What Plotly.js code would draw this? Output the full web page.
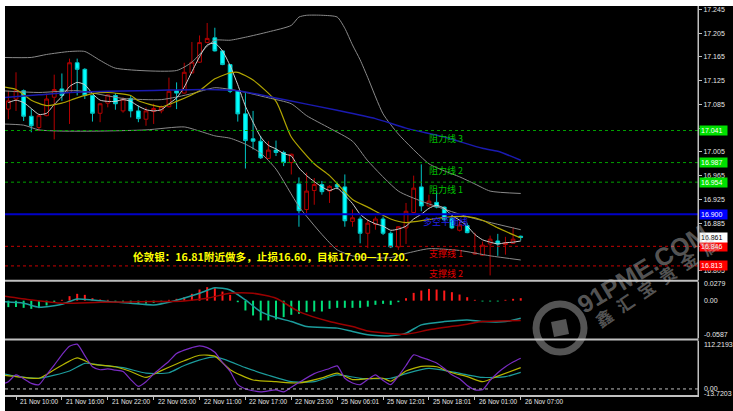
<!DOCTYPE html>
<html><head><meta charset="utf-8">
<script src="https://cdn.plot.ly/plotly-3.0.1.min.js"></script>
<style>
html,body{margin:0;padding:0;background:#fff;width:733px;height:411px;overflow:hidden}
#chart{position:absolute;left:0;top:0;width:733px;height:411px;background:#000}
.strip{position:absolute;background:#fff;z-index:5}
</style></head><body><div id="chart"></div>
<div class="strip" style="left:0;top:0;width:733px;height:6px"></div>
<div class="strip" style="left:0;top:0;width:5px;height:411px"></div>
<script>
// ---------- data ----------
const barIdx = Array.from({length:68},(_,i)=>i);
const tickIdx = [1,7,13,19,25,31,37,43,49,55,61,67];
const tickLabels = ["21 Nov 10:00","21 Nov 16:00","21 Nov 22:00","22 Nov 05:00","22 Nov 11:00","22 Nov 17:00","22 Nov 23:00","25 Nov 06:01","25 Nov 12:01","25 Nov 18:01","26 Nov 01:00","26 Nov 07:00"];

const openP  = [17.077,17.094,17.108,17.065,17.046,17.066,17.097,17.111,17.105,17.155,17.144,17.100,17.070,17.087,17.100,17.074,17.095,17.074,17.060,17.073,17.074,17.081,17.108,17.104,17.138,17.156,17.189,17.197,17.175,17.152,17.108,17.069,17.027,17.023,16.994,17.008,17.004,16.987,16.951,16.908,16.940,16.950,16.939,16.950,16.946,16.888,16.892,16.868,16.883,16.892,16.868,16.845,16.877,16.903,16.946,16.914,16.920,16.912,16.893,16.873,16.881,16.833,16.831,16.850,16.855,16.849,16.851,16.863];
const highP  = [17.108,17.139,17.110,17.077,17.067,17.103,17.135,17.137,17.162,17.162,17.146,17.101,17.087,17.102,17.104,17.097,17.100,17.083,17.080,17.086,17.083,17.130,17.122,17.155,17.190,17.201,17.222,17.214,17.176,17.153,17.109,17.104,17.074,17.032,17.023,17.024,17.007,17.002,16.962,16.970,16.961,16.956,16.949,16.953,16.967,16.908,16.896,16.891,16.896,16.896,16.871,16.880,16.919,16.965,16.984,16.933,16.939,16.913,16.897,16.888,16.885,16.869,16.854,16.864,16.867,16.862,16.878,16.864];
const lowP   = [17.060,17.074,17.057,17.038,17.040,17.065,17.026,17.091,17.052,17.100,17.094,17.056,17.055,17.080,17.076,17.071,17.063,17.055,17.049,17.052,17.070,17.080,17.077,17.103,17.137,17.155,17.188,17.174,17.151,17.104,17.056,16.977,17.009,16.993,16.993,16.998,16.981,16.967,16.879,16.902,16.916,16.933,16.919,16.942,16.879,16.879,16.851,16.843,16.874,16.865,16.843,16.840,16.850,16.902,16.905,16.913,16.910,16.888,16.875,16.871,16.868,16.832,16.830,16.797,16.830,16.832,16.850,16.856];
const closeP = [17.091,17.108,17.065,17.049,17.066,17.094,17.110,17.100,17.155,17.144,17.100,17.070,17.086,17.101,17.086,17.094,17.074,17.061,17.074,17.078,17.081,17.107,17.104,17.139,17.156,17.189,17.196,17.175,17.152,17.107,17.069,17.024,17.023,16.995,17.008,17.004,16.987,17.001,16.906,16.939,16.950,16.938,16.947,16.946,16.889,16.894,16.868,16.885,16.892,16.868,16.845,16.879,16.905,16.944,16.914,16.922,16.912,16.891,16.877,16.882,16.869,16.835,16.848,16.858,16.850,16.852,16.858,16.861];

const bbUpperX = [-1,3,5,8,10,12,14,22,24,26,27,29,31,34,37,38,39,41,43,44,45,46,47,49,51,55,57,59,61,63,67];
const bbUpper  = [17.164,17.164,17.169,17.174,17.174,17.159,17.146,17.142,17.156,17.183,17.193,17.193,17.198,17.207,17.218,17.232,17.235,17.235,17.232,17.213,17.185,17.160,17.130,17.069,17.035,16.985,16.973,16.963,16.951,16.939,16.935];
const bbMidX = [-1,4,9,15,20,24,27,30,34,37,39,42,45,47,51,54,56,60,64,67];
const bbMid  = [17.108,17.105,17.108,17.095,17.093,17.103,17.113,17.108,17.096,17.086,17.066,17.045,17.023,16.990,16.939,16.922,16.913,16.896,16.883,16.874];
const bbLowerX = [-1,2,4,7,12,18,23,25,27,29,31,33,35,38,41,43,45,47,50,52,55,59,63,67];
const bbLower  = [17.052,17.050,17.042,17.040,17.040,17.042,17.047,17.040,17.032,17.028,17.018,17.003,16.976,16.913,16.866,16.840,16.830,16.827,16.827,16.834,16.842,16.839,16.830,16.823];
const fastMA = [17.088,17.092,17.088,17.078,17.068,17.070,17.085,17.098,17.115,17.122,17.118,17.103,17.092,17.090,17.090,17.093,17.090,17.082,17.076,17.074,17.076,17.086,17.096,17.114,17.140,17.165,17.185,17.188,17.175,17.150,17.118,17.082,17.055,17.030,17.016,17.010,17.002,16.998,16.978,16.965,16.955,16.946,16.940,16.944,16.932,16.918,16.900,16.890,16.884,16.880,16.873,16.875,16.880,16.892,16.900,16.910,16.915,16.910,16.898,16.890,16.880,16.866,16.857,16.853,16.850,16.852,16.853,16.855];
const yellowMaX = [-1,1,3,5,7,9,11,13,16,17,20,22,25,27,29,30,32,35,37,40,42,45,47,50,52,55,58,60,62,64,67];
const yellowMa  = [17.115,17.110,17.092,17.083,17.087,17.096,17.103,17.105,17.100,17.091,17.081,17.090,17.108,17.128,17.138,17.139,17.126,17.090,17.030,16.985,16.965,16.925,16.912,16.892,16.886,16.891,16.896,16.896,16.890,16.877,16.860];
const blueMaX = [-1,4,8,13,17,21,26,30,36,43,48,52,57,62,64,67];
const blueMa  = [17.096,17.101,17.105,17.107,17.108,17.109,17.110,17.108,17.093,17.075,17.061,17.045,17.030,17.011,17.006,16.991];

const levelValues = [17.041,16.987,16.954,16.900,16.846,16.813];
const levelNames  = ["阻力线 3","阻力线 2","阻力线 1","多空平衡线","支撑线 1","支撑线 2"];
const lastPrice = 16.861;
const priceTicks = [17.245,17.205,17.165,17.125,17.085,17.045,17.005,16.965,16.925,16.885,16.845,16.805];

const macdHist = [-0.0102,-0.0102,-0.0113,-0.0129,-0.0118,-0.0076,-0.0024,0.0013,0.0071,0.0108,
 0.0092,0.0039,0.0018,0.0013,-0.0024,-0.0034,-0.0050,-0.0050,-0.0045,-0.0034,
 -0.0024,0.0013,0.0029,0.0055,0.0108,0.0176,0.0213,0.0197,0.0144,0.0092,
 -0.0024,-0.0155,-0.0234,-0.0312,-0.0312,-0.0297,-0.0260,-0.0223,-0.0207,-0.0181,
 -0.0171,-0.0171,-0.0129,-0.0113,-0.0113,-0.0113,-0.0113,-0.0095,-0.0066,-0.0050,
 -0.0066,-0.0024,0.0039,0.0123,0.0160,0.0186,0.0176,0.0160,0.0134,0.0097,
 0.0055,0.0013,-0.0013,-0.0013,-0.0013,0.0013,0.0029,0.0039];
const macdMainX = [-1,2,4,7,9,11,13,16,19,21,25,27,29,31,33,35,37,39,43,45,47,50,52,54,57,60,62,65,67];
const macdMain  = [-0.0015,-0.0041,-0.0104,-0.0056,0.0027,0.0011,-0.0015,-0.0041,-0.0067,-0.0025,0.0117,0.0205,0.0169,0.0011,-0.0173,-0.0267,-0.0330,-0.0409,-0.0434,-0.0488,-0.0540,-0.0556,-0.0513,-0.0382,-0.0330,-0.0304,-0.0330,-0.0330,-0.0277];
const macdSignalX = [-1,3,7,12,19,23,26,29,32,35,38,42,45,47,52,55,60,62,67];
const macdSignal  = [0.0079,0.0011,-0.0041,-0.0025,-0.0015,-0.0004,0.0038,0.0117,0.0117,0.0038,-0.0173,-0.0330,-0.0409,-0.0480,-0.0529,-0.0461,-0.0371,-0.0330,-0.0315];
const macdTickText = ["0.0279","0.00","-0.0587"];

const kdjJX = [-1,0,1,3,4,5,6,7,8,9,10,11,12,13,14,15,16,17,18,19,20,21,22,23,24,25,26,27,28,29,30,31,33,35,36,37,38,40,42,43,44,45,46,47,48,49,50,51,52,53,54,55,56,57,58,59,60,61,62,63,64,65,66,67];
const kdjJ  = [10,17,33,13,10,33,56,80,100,105,78,52,45,47,44,41,22,6,17,35,50,65,83,91,97,101,97,86,62,41,10,0,-7,-2,-7,4,15,36,48,54,25,14,10,22,33,20,10,30,55,80,74,68,61,48,33,24,8,-2,-2,20,38,52,63,72];
const kdjKX = [-1,1,4,6,9,11,14,16,18,20,23,25,27,29,32,35,38,41,43,45,47,49,50,52,54,56,58,60,62,64,67];
const kdjK  = [33,29,25,45,73,58,52,41,27,43,66,79,77,45,21,17,14,26,37,22,24,25,18,42,53,52,38,29,17,30,50];
const kdjDX = [-1,1,4,8,10,12,15,18,21,23,27,31,34,37,40,43,46,50,52,55,58,60,62,65,67];
const kdjD  = [37,30,25,42,60,56,50,37,38,55,75,50,32,17,17,33,25,25,36,48,40,33,27,29,39];
const kdjTickText = ["112.2193","0.00","-13.7203"];

// ---------- styling ----------
const axisFont = {family:"Liberation Sans, Arial, sans-serif", size:7, color:"#e6e6e6"};
const gridGray = "#c0c0c0";
const line = (x,y,color,w,ya)=>({type:"scatter",mode:"lines",x:x,y:y,xaxis:"x",yaxis:ya,
  line:{color:color,width:w,shape:"spline",smoothing:0.6},hoverinfo:"skip"});

const traces = [
  {type:"candlestick",x:barIdx,open:openP,high:highP,low:lowP,close:closeP,xaxis:"x",yaxis:"y",
   increasing:{line:{color:"#b40000",width:1},fillcolor:"#000000"},
   decreasing:{line:{color:"#00c4c4",width:1},fillcolor:"#00ffff"},
   whiskerwidth:0,hoverinfo:"skip"},
  line(bbUpperX,bbUpper,"#8a8a8a",1,"y"),
  line(bbMidX,bbMid,"#8a8a8a",1,"y"),
  line(bbLowerX,bbLower,"#8a8a8a",1,"y"),
  line(barIdx,fastMA,"#cfcfcf",1,"y"),
  line(yellowMaX,yellowMa,"#b0a400",1.2,"y"),
  line(blueMaX,blueMa,"#1a1ab0",1.5,"y"),
  {type:"bar",x:barIdx,y:macdHist,xaxis:"x",yaxis:"y2",width:0.26,
   marker:{color:macdHist.map(v=>v>=0?"#ff1a1a":"#00e07a"),line:{width:0}},hoverinfo:"skip"},
  line(macdMainX,macdMain,"#1c9c9c",1.5,"y2"),
  line(macdSignalX,macdSignal,"#9a0000",1.5,"y2"),
  line(kdjDX,kdjD,"#1c9c9c",1.2,"y3"),
  line(kdjKX,kdjK,"#b4b400",1.2,"y3"),
  line(kdjJX,kdjJ,"#7a2cc4",1.2,"y3"),
];

const levelColors = ["#00a000","#00a000","#00a000","#0000c8","#c80000","#c80000"];
const textColors  = ["#00c000","#00c000","#00c000","#2020e8","#e00000","#e00000"];
const boxColors   = ["#00e000","#00e000","#00e000","#0000ff","#ff0000","#ff0000"];

const shapes = [];
levelValues.forEach((v,k)=>{
  shapes.push({type:"line",xref:"paper",x0:0,x1:1,yref:"y",y0:v,y1:v,
    line:{color:levelColors[k],width:k===3?2:1,dash:k===3?"solid":"dot"}});
});
shapes.push({type:"line",xref:"paper",x0:0,x1:1,yref:"y3",y0:0,y1:0,line:{color:"#bdbdbd",width:1,dash:"dot"}});
shapes.push({type:"line",xref:"paper",x0:0,x1:1,yref:"paper",y0:0.2937,y1:0.2937,line:{color:gridGray,width:2}});
shapes.push({type:"line",xref:"paper",x0:0,x1:1,yref:"paper",y0:0.1427,y1:0.1427,line:{color:gridGray,width:2}});
shapes.push({type:"line",xref:"paper",x0:1,x1:1,yref:"paper",y0:0,y1:1,line:{color:gridGray,width:1}});
// watermark logo
shapes.push({type:"circle",xref:"paper",yref:"paper",xsizemode:"pixel",ysizemode:"pixel",
  xanchor:0.8009,yanchor:0.1722,x0:-24,x1:24,y0:-24,y1:24,line:{color:"rgba(200,200,200,0.42)",width:7}});
shapes.push({type:"path",xref:"paper",yref:"paper",xsizemode:"pixel",ysizemode:"pixel",
  xanchor:0.8009,yanchor:0.1722,path:"M -6 -9 L 9 -6 L 6 9 L -9 6 Z",
  fillcolor:"rgba(200,200,200,0.42)",line:{width:0}});

const annotations = [];
levelValues.forEach((v,k)=>{
  annotations.push({x:57.2,y:v,xref:"x",yref:"y",text:levelNames[k],showarrow:false,
    xanchor:"center",yanchor:"top",yshift:1,font:{family:"Noto Sans CJK SC",size:9,color:textColors[k]}});
  annotations.push({x:1,y:v,xref:"paper",yref:"y",text:v.toFixed(3),showarrow:false,
    xanchor:"left",yanchor:"middle",xshift:1,bgcolor:boxColors[k],borderpad:1,width:25,align:"left",
    font:{family:axisFont.family,size:7,color:"#ffffff"}});
});
annotations.push({x:1,y:lastPrice,xref:"paper",yref:"y",text:lastPrice.toFixed(3),showarrow:false,
  xanchor:"left",yanchor:"middle",xshift:1,bgcolor:"#ffffff",borderpad:1,width:25,align:"left",
  font:{family:axisFont.family,size:7,color:"#000000"}});
// time labels (left-aligned after each tick, MT4 style)
tickIdx.forEach((t,k)=>{
  annotations.push({x:t,y:0,xref:"x",yref:"paper",text:tickLabels[k],showarrow:false,
    xanchor:"left",yanchor:"top",xshift:2,yshift:-1,font:{family:axisFont.family,size:6.4,color:"#e6e6e6"}});
});
// pane scale labels placed inside pane edges
const paneLabels = [
  {y:0.0279,ref:"y2",t:macdTickText[0]},{y:0,ref:"y2",t:macdTickText[1]},{y:-0.0587,ref:"y2",t:macdTickText[2],ys:3},
  {y:112.2193,ref:"y3",t:kdjTickText[0],ys:-3},{y:0,ref:"y3",t:kdjTickText[1]},{y:-13.7203,ref:"y3",t:kdjTickText[2],ys:1}
];
paneLabels.forEach(p=>{
  annotations.push({x:1,y:p.y,xref:"paper",yref:p.ref,text:p.t,showarrow:false,xanchor:"left",yanchor:"middle",
    xshift:4,yshift:p.ys||0,font:axisFont});
});
annotations.push({x:34.3,y:16.829,xref:"x",yref:"y",showarrow:false,xanchor:"center",yanchor:"middle",
  text:"伦敦银：16.81附近做多，止损16.60，目标17.00—17.20.",
  font:{family:"Noto Sans CJK SC",size:10.6,color:"#ffff00",weight:700}});
annotations.push({x:0.9192,y:0.3250,xref:"paper",yref:"paper",showarrow:false,textangle:-31,
  xanchor:"center",yanchor:"middle",
  text:"91PME.COM",font:{family:"Liberation Sans, Arial",size:25,color:"rgba(205,205,205,0.42)",weight:700}});
annotations.push({x:0.9400,y:0.2930,xref:"paper",yref:"paper",showarrow:false,textangle:-34,
  xanchor:"center",yanchor:"middle",
  text:"鑫\u2002汇\u2002宝\u2002贵\u2002金\u2002属",font:{family:"Noto Sans CJK SC",size:17,color:"rgba(205,205,205,0.42)",weight:700}});

const yBase = {side:"right",anchor:"x",showgrid:false,zeroline:false,showline:true,linecolor:gridGray,linewidth:1,
  ticks:"outside",ticklen:3,tickcolor:gridGray,tickfont:axisFont,fixedrange:true,ticklabeloverflow:"allow"};

const layout = {
  width:733,height:411,margin:{l:5,r:35,t:6,b:16},
  paper_bgcolor:"#000000",plot_bgcolor:"#000000",showlegend:false,hovermode:false,dragmode:false,
  xaxis:{range:[-0.438,90.18],anchor:"y3",tickmode:"array",tickvals:tickIdx,showticklabels:false,
    ticks:"outside",ticklen:3,tickcolor:gridGray,showgrid:false,zeroline:false,showline:true,linecolor:gridGray,linewidth:2,
    rangeslider:{visible:false},fixedrange:true},
  yaxis:Object.assign({},yBase,{domain:[0.29563,1],range:[16.7893,17.2506],tickmode:"array",tickvals:priceTicks,
    ticktext:priceTicks.map(v=>v.toFixed(3))}),
  yaxis2:Object.assign({},yBase,{domain:[0.14653,0.29049],range:[-0.0590,0.0295],showticklabels:false,ticks:""}),
  yaxis3:Object.assign({},yBase,{domain:[0,0.13882],range:[-14.2,112.4],showticklabels:false,ticks:""}),
  shapes:shapes,annotations:annotations
};

Plotly.newPlot("chart",traces,layout,{staticPlot:true,displayModeBar:false});
</script></body></html>
